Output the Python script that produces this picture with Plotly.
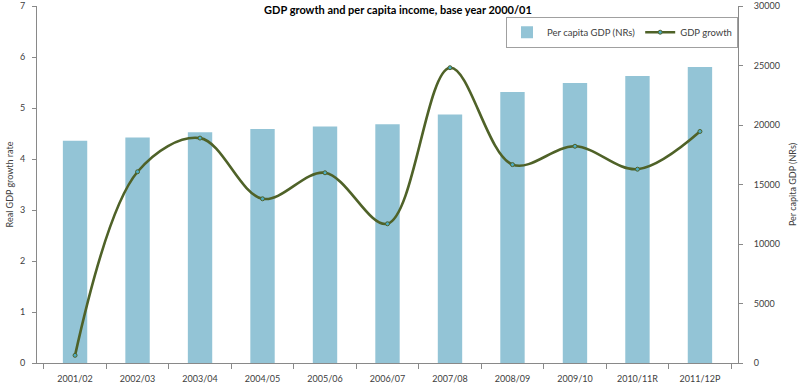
import plotly.graph_objects as go

categories = ["2001/02", "2002/03", "2003/04", "2004/05", "2005/06", "2006/07",
              "2007/08", "2008/09", "2009/10", "2010/11R", "2011/12P"]
per_capita_gdp = [18670, 18950, 19390, 19670, 19870, 20060, 20890, 22780, 23530, 24120, 24870]
gdp_growth = [0.15, 3.75, 4.41, 3.22, 3.73, 2.73, 5.79, 3.89, 4.25, 3.80, 4.54]

FONT = "Lato"
TXT = "#404040"
AX = "#898989"

fig = go.Figure()
fig.add_trace(go.Bar(
    x=categories, y=per_capita_gdp, name="Per capita GDP (NRs)",
    marker=dict(color="#93C4D6", line=dict(width=0)), width=0.39, yaxis="y",
))
fig.add_trace(go.Scatter(
    x=categories, y=gdp_growth, name="GDP growth", yaxis="y2",
    mode="lines+markers", line=dict(color="#4F6228", width=2.6, shape="spline", smoothing=1.0),
    marker=dict(size=4, color="#4BACC6", line=dict(color="#4F6228", width=1)),
))

fig.update_layout(
    width=800, height=391,
    margin=dict(l=37, r=62, t=6, b=28, autoexpand=False),
    paper_bgcolor="white", plot_bgcolor="white",
    font=dict(family=FONT, size=9, color=TXT),
    showlegend=True,
    title=dict(text="<b>GDP growth and per capita income, base year 2000/01</b>",
               x=0.4975, xanchor="center", y=0.975, yanchor="middle",
               font=dict(family=FONT, size=11, color="#000000")),
    legend=dict(orientation="h", x=1.0, xanchor="right", y=0.97, yanchor="top",
                bgcolor="white", bordercolor="#A0A0A0", borderwidth=1,
                font=dict(size=9.5, color=TXT), traceorder="normal"),
    xaxis=dict(type="category", showline=True, linecolor=AX, linewidth=1,
               ticks="outside", tickson="boundaries", ticklen=5, tickcolor=AX,
               ticklabelstandoff=7,
               showgrid=False, tickfont=dict(size=9, color=TXT), automargin=False),
    yaxis=dict(side="right", range=[0, 30000], dtick=5000, tickformat="d", showline=True,
               linecolor=AX, linewidth=1, ticks="outside", ticklen=4, tickcolor=AX,
               showgrid=False, zeroline=False, tickfont=dict(size=9, color=TXT),
               ticklabelstandoff=9, ticklabeloverflow="allow", automargin=False,
               title=dict(text="Per capita GDP (NRs)", font=dict(size=9, color=TXT), standoff=10)),
    yaxis2=dict(side="left", overlaying="y", range=[0, 7], dtick=1, showline=True,
                linecolor=AX, linewidth=1, ticks="outside", ticklen=4, tickcolor=AX,
                showgrid=False, zeroline=False, tickfont=dict(size=9, color=TXT),
                ticklabelstandoff=5, ticklabeloverflow="allow", automargin=False,
                title=dict(text="Real GDP growth rate", font=dict(size=9, color=TXT), standoff=4)),
)

fig.write_html("out.html", config={"displayModeBar": False},
               post_script="document.body.style.margin='0px';")
